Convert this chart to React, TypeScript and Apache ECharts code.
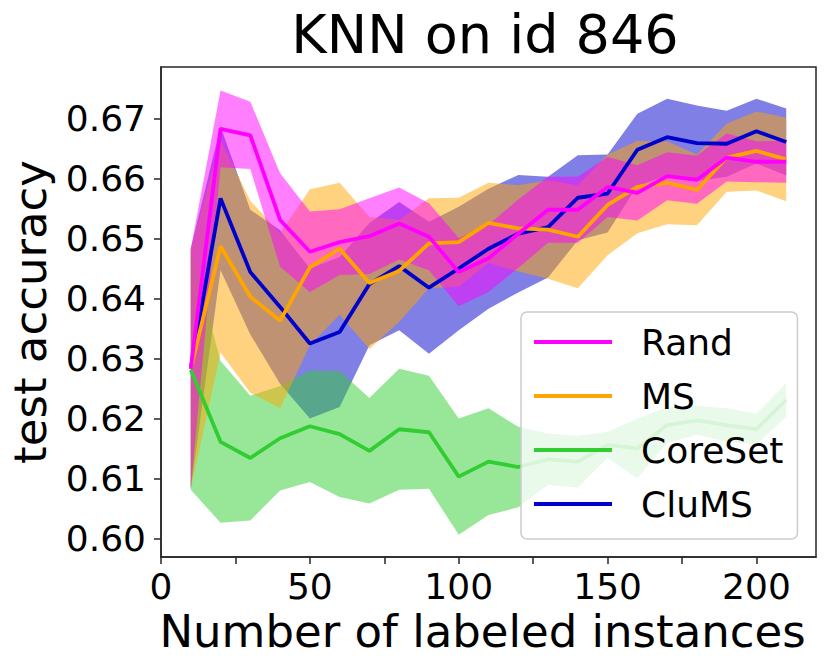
import React, { useEffect, useRef } from "react";
import * as echarts from "echarts";

const X = [10, 20, 30, 40, 50, 60, 70, 80, 90, 100, 110, 120, 130, 140, 150, 160, 170, 180, 190, 200, 210];

const randMean = [0.6283, 0.6683, 0.6672, 0.6531, 0.6478, 0.6494, 0.6504, 0.6525, 0.6503, 0.6444, 0.6467, 0.6508, 0.6548, 0.6548, 0.6586, 0.6576, 0.6604, 0.6598, 0.6635, 0.6628, 0.6628];
const randStd = [0.02, 0.0064, 0.0056, 0.0078, 0.0067, 0.0055, 0.0063, 0.006, 0.0056, 0.0057, 0.0056, 0.0057, 0.0055, 0.0055, 0.005, 0.0046, 0.004, 0.004, 0.004, 0.0034, 0.0035];

const msMean = [0.6283, 0.6487, 0.6403, 0.6363, 0.6452, 0.6483, 0.6426, 0.6446, 0.6492, 0.6494, 0.6526, 0.6517, 0.6515, 0.6503, 0.6556, 0.6586, 0.6593, 0.6581, 0.6635, 0.6646, 0.6632];
const msStd = [0.02, 0.0177, 0.016, 0.0146, 0.013, 0.011, 0.011, 0.0085, 0.0075, 0.0074, 0.0067, 0.0072, 0.0082, 0.0086, 0.0084, 0.0077, 0.0069, 0.0059, 0.0057, 0.0066, 0.007];

const coreMean = [0.6281, 0.6161, 0.6134, 0.6167, 0.6187, 0.6174, 0.6146, 0.6182, 0.6177, 0.6103, 0.6128, 0.6119, 0.6132, 0.6128, 0.6156, 0.615, 0.6189, 0.6197, 0.6189, 0.6182, 0.6231];
const coreStd = [0.02, 0.0135, 0.0104, 0.0087, 0.0093, 0.0105, 0.0088, 0.0101, 0.0094, 0.0097, 0.0089, 0.0067, 0.0043, 0.0043, 0.0022, 0.005, 0.003, 0.0024, 0.0028, 0.0026, 0.0028];

const cluMean = [0.6283, 0.6567, 0.6444, 0.6386, 0.6325, 0.6344, 0.6424, 0.6454, 0.6418, 0.645, 0.6483, 0.6508, 0.6519, 0.6568, 0.6575, 0.6648, 0.6669, 0.6659, 0.6658, 0.6679, 0.6661];
const cluStd = [0.02, 0.012, 0.0104, 0.0128, 0.0125, 0.0125, 0.0102, 0.0107, 0.011, 0.0103, 0.01, 0.0098, 0.0084, 0.0071, 0.0065, 0.006, 0.0064, 0.0063, 0.0055, 0.0054, 0.0056];

const xTicks = [0, 25, 50, 75, 100, 125, 150, 175, 200];
const xLabels = [0, 50, 100, 150, 200];
const yTicks = [0.6, 0.61, 0.62, 0.63, 0.64, 0.65, 0.66, 0.67];

const METHODS = [
  { name: "Rand", mean: randMean, std: randStd, color: "#ff00ff" },
  { name: "MS", mean: msMean, std: msStd, color: "#ffa500" },
  { name: "CoreSet", mean: coreMean, std: coreStd, color: "#32cd32" },
  { name: "CluMS", mean: cluMean, std: cluStd, color: "#0000cd" },
];

const FONT = "DejaVu Sans";
const AX = "#262626";

export default function App() {
  const ref = useRef<HTMLDivElement>(null);
  useEffect(() => {
    document.body.style.margin = "0";
    if (!ref.current) return;
    const chart = echarts.init(ref.current, null, { renderer: "svg" });
    const drawOrder = [...METHODS].reverse();
    const bands = drawOrder.map((m) => ({
      name: m.name + "-band",
      type: "custom",
      silent: true,
      clip: true,
      encode: { x: 0, y: [1, 2] },
      data: X.map((x, i) => [x, m.mean[i] - m.std[i], m.mean[i] + m.std[i]]),
      renderItem: (params: any, api: any) => {
        if (params.dataIndexInside !== 0) return null;
        const n = params.dataInsideLength;
        const upper: number[][] = [];
        const lower: number[][] = [];
        for (let j = 0; j < n; j++) {
          const x = api.value(0, j);
          lower.push(api.coord([x, api.value(1, j)]));
          upper.push(api.coord([x, api.value(2, j)]));
        }
        const pts = upper.concat(lower.reverse());
        return {
          type: "polygon",
          shape: { points: pts },
          style: { fill: m.color, opacity: 0.5, stroke: "none" },
        };
      },
    }));
    const lines = drawOrder.map((m) => ({
      name: m.name,
      type: "line",
      symbol: "none",
      color: m.color,
      z: 3,
      lineStyle: { color: m.color, width: 3.8 },
      itemStyle: { color: m.color },
      data: X.map((x, i) => [x, m.mean[i]]),
    }));
    chart.setOption({
      animation: false,
      title: {
        text: "KNN on id 846",
        left: 485,
        top: 7,
        padding: 0,
        textAlign: "center",
        textStyle: { fontFamily: FONT, fontSize: 54, fontWeight: "normal", color: "#000" },
      },
      grid: {
        left: 160,
        right: 15,
        top: 67,
        bottom: 114,
        show: true,
        borderColor: AX,
        borderWidth: 1.5,
        backgroundColor: "transparent",
      },
      legend: {
        data: METHODS.map((m) => m.name),
        orient: "vertical",
        left: 521,
        top: 312,
        icon: "rect",
        itemWidth: 78,
        itemHeight: 4,
        itemGap: 18,
        padding: [12, 14, 17, 13],
        backgroundColor: "rgba(255,255,255,0.8)",
        borderColor: "#cccccc",
        borderWidth: 1.5,
        borderRadius: 6,
        textStyle: { fontFamily: FONT, fontSize: 36, color: "#000", padding: [0, 0, 0, 24] },
      },
      xAxis: {
        type: "value",
        min: 0,
        max: 220,
        name: "Number of labeled instances",
        nameLocation: "middle",
        nameGap: 52,
        nameTextStyle: { fontFamily: FONT, fontSize: 45, color: "#000", padding: [0, 12, 0, 0] },
        axisLine: { show: true, lineStyle: { color: AX, width: 1.5 } },
        axisTick: { show: true, length: 7, lineStyle: { color: AX, width: 1.5 }, customValues: xTicks },
        axisLabel: { fontFamily: FONT, fontSize: 36, color: "#000", margin: 11, customValues: xLabels },
        splitLine: { show: false },
      },
      yAxis: {
        type: "value",
        min: 0.5969,
        max: 0.6786,
        name: "test accuracy",
        nameLocation: "middle",
        nameGap: 108,
        nameRotate: 90,
        nameTextStyle: { fontFamily: FONT, fontSize: 45, color: "#000" },
        axisLine: { show: true, lineStyle: { color: AX, width: 1.5 } },
        axisTick: { show: true, length: 7, lineStyle: { color: AX, width: 1.5 }, customValues: yTicks },
        axisLabel: {
          fontFamily: FONT,
          fontSize: 36,
          color: "#000",
          margin: 15,
          customValues: yTicks,
          formatter: (v: number) => v.toFixed(2),
        },
        splitLine: { show: false },
      },
      series: [...bands, ...lines],
    });
    return () => chart.dispose();
  }, []);
  return <div ref={ref} style={{ width: 831, height: 671 }} />;
}
